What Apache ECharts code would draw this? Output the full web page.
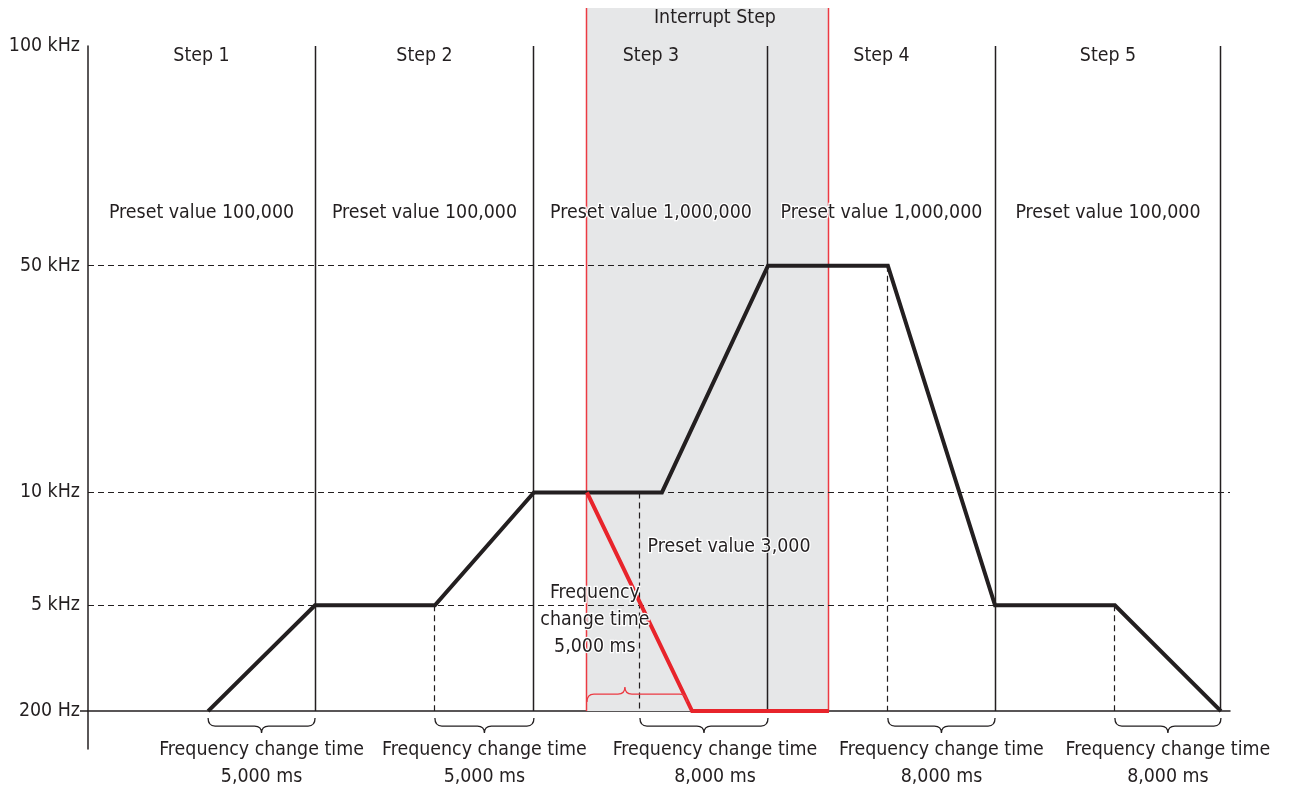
<!DOCTYPE html>
<html>
<head>
<meta charset="utf-8">
<script src="https://cdn.jsdelivr.net/npm/echarts@6/dist/echarts.min.js"></script>
<style>
html,body{margin:0;padding:0;background:#fff;}
#chart{width:1289px;height:790px;}
</style>
</head>
<body>
<div id="chart"></div>
<script>
// ---------- data ----------
const freqLabels = ['200 Hz', '5 kHz', '10 kHz', '50 kHz', '100 kHz'];
const freqLevels = [0, 0.955, 1.973, 4.018, 6];           // schematic level of each frequency
const stepNames = ['Step 1', 'Step 2', 'Step 3', 'Step 4', 'Step 5'];
const stepBounds = [0, 10.02, 19.68, 30.01, 40.03, 50.0];  // step boundaries (schematic time)
const presetLabels = ['Preset value 100,000', 'Preset value 100,000', 'Preset value 1,000,000', 'Preset value 1,000,000', 'Preset value 100,000'];

const profileX = [5.30, 10.02, 15.31, 19.68, 25.33, 30.01, 35.30, 40.03, 45.32, 50.0];
const profileLevel = [0, 1, 1, 2, 2, 3, 3, 1, 1, 0];      // index into freqLevels

const interruptRange = [22.02, 32.70];
const interruptX = [22.02, 26.66, 32.70];
const interruptLevel = [2, 0, 0];
const interruptPresetLabel = 'Preset value 3,000';
const interruptBrace = [22.02, 26.43];
const interruptTime = '5,000 ms';

const braceStart = [5.30, 15.31, 24.36, 35.30, 45.32];
const braceEnd = [10.02, 19.68, 30.01, 40.03, 50.0];
const braceTimes = ['5,000 ms', '5,000 ms', '8,000 ms', '8,000 ms', '8,000 ms'];

const hGuideLevel = [1, 2, 3];
const hGuideEnd = [40.03, 50.4, 30.01];
const vGuideX = [15.31, 24.36, 35.30, 45.32];
const vGuideLevel = [1, 2, 3, 1];

// ---------- style ----------
const INK = '#231f20', RED = '#e8242b', RED_THIN = '#ec3a42', GREY = '#e6e7e8';
const FONT = "'DejaVu Sans Condensed', 'Liberation Sans', sans-serif";
const FS = 19.4;
const X_MAX = 50.4, Y_MIN = -0.342;
const DASH = { stroke: INK, lineWidth: 1.2, lineDash: [6, 4] };

function snap(v) { return Math.round(v - 0.5) + 0.5; }

function txt(x, y, text, extra) {
  return {
    type: 'text', x: x, y: y,
    style: Object.assign({
      text: text, fill: INK, fontSize: FS, fontFamily: FONT,
      align: 'center', verticalAlign: 'middle', lineHeight: 27
    }, extra || {})
  };
}
const HALO = { stroke: '#ffffff', lineWidth: 2.5 };

function renderBackground(params, api) {
  const top = api.coord([0, freqLevels[4]])[1] - 38;
  const a = api.coord([interruptRange[0], 0]);
  const b = api.coord([interruptRange[1], 0]);
  const ax = snap(a[0]), bx = snap(b[0]);
  return {
    type: 'group',
    children: [
      { type: 'rect', shape: { x: ax, y: top, width: bx - ax, height: a[1] - top }, style: { fill: GREY } },
      { type: 'line', shape: { x1: ax, y1: top, x2: ax, y2: a[1] }, style: { stroke: RED_THIN, lineWidth: 1.5 } },
      { type: 'line', shape: { x1: bx, y1: top, x2: bx, y2: b[1] }, style: { stroke: RED_THIN, lineWidth: 1.5 } },
      txt((a[0] + b[0]) / 2 + 7, top + 10, 'Interrupt Step')
    ]
  };
}

function renderGuides(params, api) {
  const ch = [];
  hGuideLevel.forEach(function (lv, i) {
    const p = api.coord([0, freqLevels[lv]]);
    const q = api.coord([hGuideEnd[i], freqLevels[lv]]);
    const y = snap(p[1]);
    ch.push({ type: 'line', shape: { x1: p[0], y1: y, x2: q[0], y2: y }, style: DASH });
  });
  vGuideX.forEach(function (x, i) {
    const p = api.coord([x, freqLevels[vGuideLevel[i]]]);
    const q = api.coord([x, 0]);
    const xx = snap(p[0]);
    ch.push({ type: 'line', shape: { x1: xx, y1: p[1], x2: xx, y2: q[1] }, style: DASH });
  });
  stepBounds.slice(1).forEach(function (x) {
    const p = api.coord([x, freqLevels[4]]);
    const q = api.coord([x, 0]);
    const xx = snap(p[0]);
    ch.push({ type: 'line', shape: { x1: xx, y1: p[1], x2: xx, y2: q[1] }, style: { stroke: INK, lineWidth: 1.5 } });
  });
  return { type: 'group', children: ch };
}

function bracePath(x1, x2, y0, dir, xm) {
  // dir = 1 : tip downward; dir = -1 : tip upward
  const yh = y0 + dir * 8, yt = y0 + dir * 15, r = 7;
  return 'M' + x1 + ' ' + y0 +
    ' Q' + x1 + ' ' + yh + ' ' + (x1 + r) + ' ' + yh +
    ' L' + (xm - r) + ' ' + yh +
    ' Q' + xm + ' ' + yh + ' ' + xm + ' ' + yt +
    ' Q' + xm + ' ' + yh + ' ' + (xm + r) + ' ' + yh +
    ' L' + (x2 - r) + ' ' + yh +
    ' Q' + x2 + ' ' + yh + ' ' + x2 + ' ' + y0;
}

function renderAnnotations(params, api) {
  const ch = [];
  const topY = api.coord([0, freqLevels[4]])[1];
  stepNames.forEach(function (name, i) {
    const cx = api.coord([(stepBounds[i] + stepBounds[i + 1]) / 2, 0])[0];
    ch.push(txt(cx, topY + 10, name));
    ch.push(txt(cx, api.coord([0, 4.49])[1], presetLabels[i], HALO));
  });
  braceStart.forEach(function (s, i) {
    const a = api.coord([s, 0]);
    const b = api.coord([braceEnd[i], 0]);
    const xm = (a[0] + b[0]) / 2;
    ch.push({ type: 'path', shape: { pathData: bracePath(a[0], b[0], a[1] + 7, 1, xm) }, style: { stroke: INK, lineWidth: 1.3, fill: null } });
    ch.push(txt(xm + (i === 2 ? 11 : 0), a[1] + 52.5, 'Frequency change time\n' + braceTimes[i]));
  });
  const ra = api.coord([interruptBrace[0], 0]);
  const rb = api.coord([interruptBrace[1], 0]);
  ch.push({ type: 'path', shape: { pathData: bracePath(ra[0], rb[0], ra[1] - 9, -1, ra[0] + (rb[0] - ra[0]) * 0.38) }, style: { stroke: RED_THIN, lineWidth: 1.3, fill: null } });
  const lp = api.coord([22.37, 0.82]);
  ch.push(txt(lp[0], lp[1], 'Frequency\nchange time\n' + interruptTime, HALO));
  const pp = api.coord([28.29, 1.48]);
  ch.push(txt(pp[0], pp[1], interruptPresetLabel, HALO));
  return { type: 'group', children: ch };
}

const chart = echarts.init(document.getElementById('chart'), null, { renderer: 'canvas' });
chart.setOption({
  animation: false,
  backgroundColor: '#ffffff',
  grid: { left: 88, right: 59, top: 46, bottom: 41, containLabel: false },
  xAxis: {
    type: 'value', min: 0, max: X_MAX,
    axisLine: { show: true, onZero: true, lineStyle: { color: INK, width: 1.5 } },
    axisTick: { show: false }, axisLabel: { show: false }, splitLine: { show: false }
  },
  yAxis: {
    type: 'value', min: Y_MIN, max: freqLevels[4],
    axisLine: { show: true, onZero: false, lineStyle: { color: INK, width: 1.5 } },
    axisTick: { show: true, customValues: [freqLevels[0]], length: 8, lineStyle: { color: INK, width: 1.5 } },
    axisLabel: {
      show: true, customValues: freqLevels, margin: 8,
      color: INK, fontSize: FS, fontFamily: FONT,
      formatter: function (v) {
        const i = freqLevels.findIndex(function (l) { return Math.abs(l - v) < 1e-6; });
        return i >= 0 ? freqLabels[i] : '';
      }
    },
    splitLine: { show: false }
  },
  series: [
    { type: 'custom', z: 1, silent: true, data: [[0, 0]], renderItem: renderBackground, clip: false },
    { type: 'custom', z: 2, silent: true, data: [[0, 0]], renderItem: renderGuides, clip: false },
    {
      type: 'line', z: 3, symbol: 'none', silent: true,
      data: profileX.map(function (x, i) { return [x, freqLevels[profileLevel[i]]]; }),
      lineStyle: { color: INK, width: 4, join: 'miter' }
    },
    {
      type: 'line', z: 4, symbol: 'none', silent: true,
      data: interruptX.map(function (x, i) { return [x, freqLevels[interruptLevel[i]]]; }),
      lineStyle: { color: RED, width: 4, join: 'miter' }
    },
    { type: 'custom', z: 5, silent: true, data: [[0, 0]], renderItem: renderAnnotations, clip: false }
  ]
});
</script>
</body>
</html>
